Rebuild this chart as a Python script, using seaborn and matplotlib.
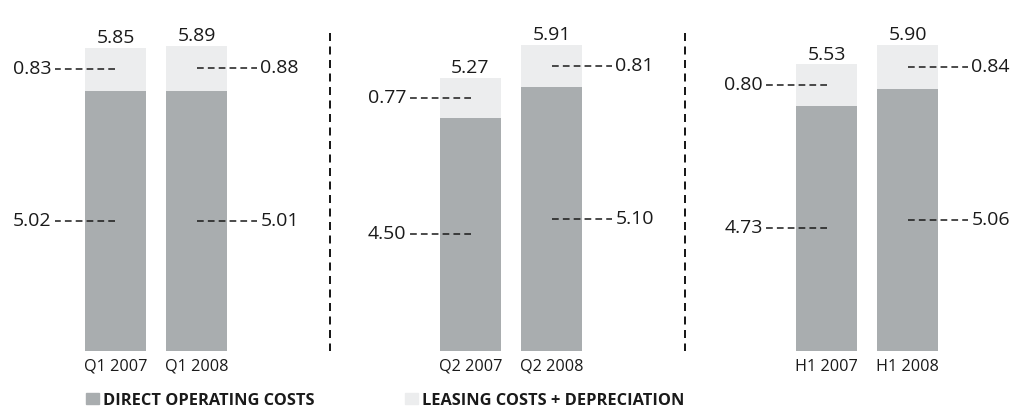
import matplotlib
matplotlib.use("Agg")
import matplotlib.pyplot as plt
import matplotlib.patches as mpatches
import seaborn as sns

# Données (millions par heure de vol)
periods = [["Q1 2007", "Q1 2008"], ["Q2 2007", "Q2 2008"], ["H1 2007", "H1 2008"]]
direct_costs = [[5.02, 5.01], [4.50, 5.10], [4.73, 5.06]]
leasing_costs = [[0.83, 0.88], [0.77, 0.81], [0.80, 0.84]]
totals = [[5.85, 5.89], [5.27, 5.91], [5.53, 5.90]]
legend_labels = ["DIRECT OPERATING COSTS", "LEASING COSTS + DEPRECIATION"]

dark = "#a9adaf"
light = "#ecedee"
ink = "#1a1a1a"

sns.set_theme(style="white")
plt.rcParams["font.family"] = ["Open Sans", "DejaVu Sans"]

W, H = 1013, 407
fig = plt.figure(figsize=(W / 100, H / 100), dpi=100)

px_unit = 81.0        # pixels par catégorie
y_scale = 51.85       # pixels par unité
base_px = 351         # ligne de base (depuis le haut)
panel_left = [0, 355, 711]
panel_width = [355, 356, 302]
first_center = 115.5
sep_x = 2.648

for i in range(3):
    ax = fig.add_axes([panel_left[i] / W, (H - base_px) / H,
                       panel_width[i] / W, base_px / H])
    sns.barplot(x=periods[i], y=totals[i], color=light, saturation=1,
                width=0.753, linewidth=0, ax=ax)
    sns.barplot(x=periods[i], y=direct_costs[i], color=dark, saturation=1,
                width=0.753, linewidth=0, ax=ax)
    ax.set_xlim(-first_center / px_unit,
                (panel_width[i] - first_center) / px_unit)
    ax.set_ylim(0, base_px / y_scale)
    ax.set_yticks([])
    ax.tick_params(axis="x", length=0, pad=5.5, labelsize=11.7, labelcolor=ink)
    for s in ax.spines.values():
        s.set_visible(False)

    for j in range(2):
        ax.annotate(f"{totals[i][j]:.2f}", (j, totals[i][j]),
                    xytext=(0, 3.4), textcoords="offset points",
                    ha="center", va="baseline", fontsize=14, color=ink)
        side = -1 if j == 0 else 1
        mids = [direct_costs[i][j] + leasing_costs[i][j] / 2,
                direct_costs[i][j] / 2]
        vals = [leasing_costs[i][j], direct_costs[i][j]]
        for m, v in zip(mids, vals):
            ax.plot([j, j + side * 0.753], [m, m], color=ink, lw=1.1,
                    linestyle=(0, (4.4, 2.7)), dash_capstyle="butt")
            ax.text(j + side * 0.79, m, f"{v:.2f}",
                    ha="right" if side < 0 else "left", va="center",
                    fontsize=14, color=ink)

    if i < 2:
        ax.plot([sep_x, sep_x], [(base_px - 33) / y_scale, 0], color=ink,
                lw=1.44, linestyle=(0, (4, 2.75)), dash_capstyle="butt",
                clip_on=False)

handles = [mpatches.Patch(color=dark, label=legend_labels[0]),
           mpatches.Patch(color=light, label=legend_labels[1])]
fig.legend(handles=handles, loc="lower left", bbox_to_anchor=(86 / W, -0.004),
           ncol=2, frameon=False, borderpad=0, borderaxespad=0,
           handlelength=0.79, handleheight=0.67, handletextpad=0.26,
           columnspacing=5.5, prop={"size": 11.8, "weight": "bold"},
           labelcolor=ink)

fig.savefig("out.png", dpi=100)
